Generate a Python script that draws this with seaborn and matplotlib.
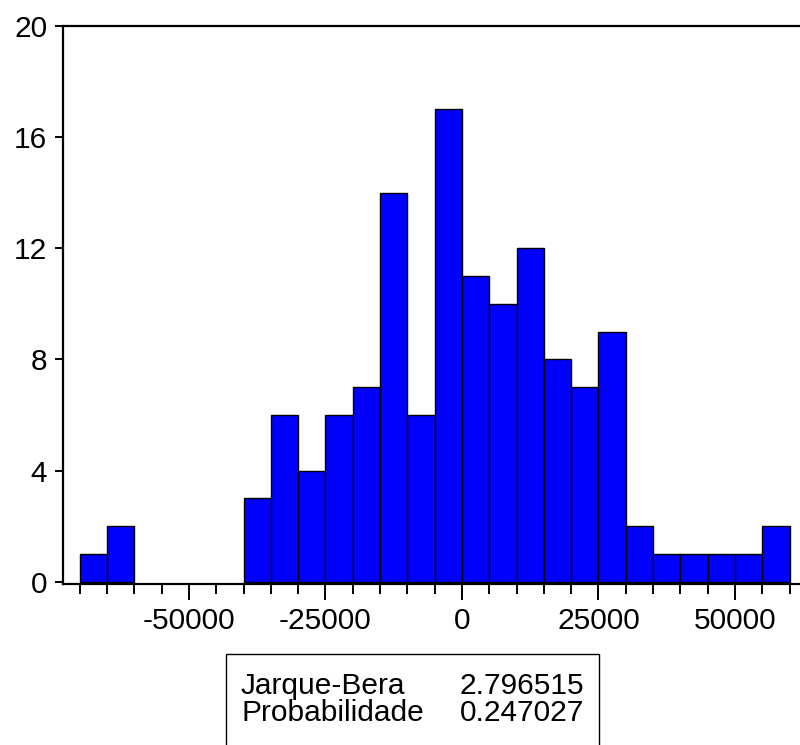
import numpy as np
import pandas as pd
import matplotlib
matplotlib.use("Agg")
import matplotlib.pyplot as plt
from matplotlib.patches import Rectangle
from matplotlib.ticker import MultipleLocator
import seaborn as sns

# Data (bin width 5000, from -70000 to 60000)
bin_left = [-70000, -65000, -60000, -55000, -50000, -45000, -40000, -35000,
            -30000, -25000, -20000, -15000, -10000, -5000, 0, 5000, 10000,
            15000, 20000, 25000, 30000, 35000, 40000, 45000, 50000, 55000]
counts = [1, 2, 0, 0, 0, 0, 3, 6, 4, 6, 7, 14, 6, 17, 11, 10, 12, 8, 7, 9,
          2, 1, 1, 1, 1, 2]
bin_width = 5000
x_ticks = [-50000, -25000, 0, 25000, 50000]
y_ticks = [0, 4, 8, 12, 16, 20]
stat_labels = ["Jarque-Bera", "Probabilidade"]
stat_values = ["2.796515", "0.247027"]

sns.set_theme(style="white")
plt.rcParams["font.family"] = ["Liberation Sans", "DejaVu Sans"]

W, H = 800, 745
fig = plt.figure(figsize=(W / 100, H / 100), dpi=100)

# axes pixel geometry
left_px, right_px, top_px, bottom_px = 63, 800, 26, 584
ax = fig.add_axes([left_px / W, 1 - bottom_px / H,
                   (right_px - left_px) / W, (bottom_px - top_px) / H])

df = pd.DataFrame({"center": np.array(bin_left) + bin_width / 2,
                   "count": counts})
edges = list(bin_left) + [bin_left[-1] + bin_width]
sns.histplot(data=df, x="center", weights="count", bins=edges, ax=ax,
             color="#0000FF", alpha=1.0, edgecolor="black", linewidth=1.0)
for p in ax.patches:
    if p.get_height() == 0:
        p.set_visible(False)

ax.set_xlim(-73077, 61905)
ax.set_ylim(-0.083, 20)
ax.set_xlabel("")
ax.set_ylabel("")

ax.set_xticks(x_ticks)
ax.set_xticklabels([str(v) for v in x_ticks])
ax.xaxis.set_minor_locator(MultipleLocator(5000))
ax.set_yticks(y_ticks)
ax.set_yticklabels([str(v) for v in y_ticks])

fs = 21.5
ax.tick_params(axis="x", which="major", direction="out", length=11.5,
               width=1.4, color="black", labelsize=fs, pad=5.0,
               labelcolor="black", bottom=True)
ax.tick_params(axis="x", which="minor", direction="out", length=7.2,
               width=1.4, color="black", bottom=True)
ax.tick_params(axis="y", which="major", direction="out", length=5.8,
               width=1.4, color="black", labelsize=fs, pad=5.5,
               labelcolor="black", left=True)

for side in ["left", "top", "bottom"]:
    ax.spines[side].set_visible(True)
    ax.spines[side].set_color("black")
    ax.spines[side].set_linewidth(1.6)
ax.spines["right"].set_visible(False)

# statistics box
bx0, bx1, by0 = 226, 599, 654
fig.patches.append(Rectangle((bx0 / W, -0.05), (bx1 - bx0) / W,
                             1 - by0 / H + 0.05, transform=fig.transFigure,
                             facecolor="white", edgecolor="black",
                             linewidth=1.0))
for i, (lab, val) in enumerate(zip(stat_labels, stat_values)):
    yb = [694, 721][i]
    fig.text(241 / W, 1 - yb / H, lab, fontsize=fs, ha="left",
             va="baseline", color="black")
    fig.text(584 / W, 1 - yb / H, val, fontsize=fs, ha="right",
             va="baseline", color="black")

fig.savefig("out.png", dpi=100)
